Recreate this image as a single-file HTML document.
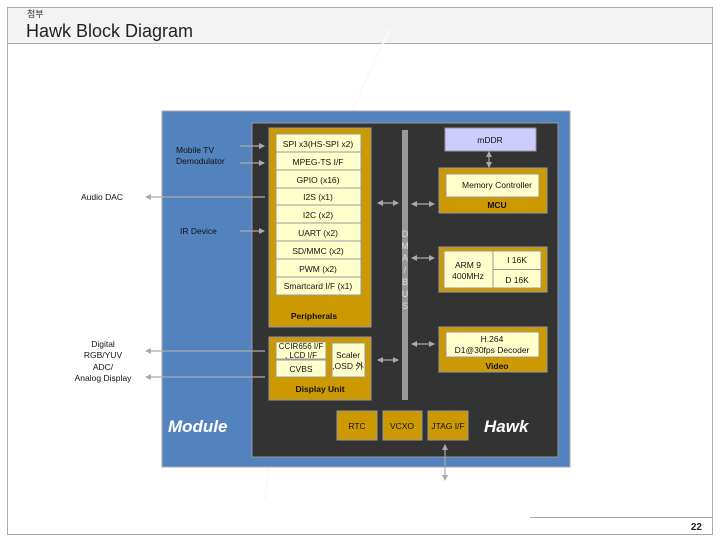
<!DOCTYPE html>
<html><head><meta charset="utf-8"><style>
body{margin:0;background:#fff;}
svg{display:block;font-family:"Liberation Sans","Noto Sans CJK KR",sans-serif;}
</style></head><body>
<svg width="720" height="540" viewBox="0 0 720 540" xmlns="http://www.w3.org/2000/svg">
<defs>
<marker id="a" markerWidth="6" markerHeight="6" refX="5" refY="3" orient="auto-start-reverse" markerUnits="userSpaceOnUse"><path d="M0,0 L6,3 L0,6z" fill="#aaa"/></marker>
</defs>
<rect x="7.5" y="7.5" width="705" height="527" fill="#fff" stroke="#aaa"/>
<rect x="8" y="8" width="704" height="35" fill="#f3f3f3"/>
<line x1="7" y1="43.5" x2="713" y2="43.5" stroke="#aaa"/>
<text x="27" y="17" font-size="9" fill="#333">첨부</text>
<text x="26" y="37" font-size="18" fill="#222">Hawk Block Diagram</text>
<line x1="530" y1="517.5" x2="713" y2="517.5" stroke="#aaa"/>
<text x="702" y="530" font-size="10" font-weight="bold" fill="#222" text-anchor="end">22</text>
<path d="M265 500 Q300 200 390 30" fill="none" stroke="#fafafa" stroke-width="2"/>

<rect x="162" y="111" width="408" height="356" fill="#5283bf" stroke="#aaa"/>
<rect x="252" y="123" width="306" height="334" fill="#333" stroke="#999"/>

<rect x="269" y="128" width="102" height="199" fill="#cc9900" stroke="#999"/>
<g font-size="8.5" fill="#111" text-anchor="middle">
<rect x="276" y="134" width="85" height="161" fill="#ffffcc" stroke="#999"/>
<g stroke="#999"><line x1="276" y1="152" x2="361" y2="152"/><line x1="276" y1="170" x2="361" y2="170"/><line x1="276" y1="188" x2="361" y2="188"/><line x1="276" y1="205" x2="361" y2="205"/><line x1="276" y1="223" x2="361" y2="223"/><line x1="276" y1="241" x2="361" y2="241"/><line x1="276" y1="259" x2="361" y2="259"/><line x1="276" y1="277" x2="361" y2="277"/></g>
<text x="318" y="147">SPI x3(HS-SPI x2)</text>
<text x="318" y="165">MPEG-TS I/F</text>
<text x="318" y="183">GPIO (x16)</text>
<text x="318" y="200">I2S (x1)</text>
<text x="318" y="218">I2C (x2)</text>
<text x="318" y="236">UART (x2)</text>
<text x="318" y="254">SD/MMC (x2)</text>
<text x="318" y="272">PWM (x2)</text>
<text x="318" y="289">Smartcard I/F (x1)</text>
<text x="314" y="319" font-weight="bold">Peripherals</text>
</g>

<rect x="402" y="130" width="6" height="270" fill="#999"/>
<g font-size="9" fill="#ddd" text-anchor="middle">
<text x="405" y="237">D</text><text x="405" y="249">M</text><text x="405" y="261">A</text><text x="405" y="273">/</text><text x="405" y="285">B</text><text x="405" y="297">U</text><text x="405" y="309">S</text>
</g>

<g font-size="8.5" fill="#111" text-anchor="middle">
<rect x="445" y="128" width="91" height="23" fill="#ccccff" stroke="#999"/>
<text x="490" y="143">mDDR</text>
<rect x="439" y="168" width="108" height="45" fill="#cc9900" stroke="#999"/>
<rect x="446" y="174" width="93" height="23" fill="#ffffcc" stroke="#999"/>
<text x="497" y="188">Memory Controller</text>
<text x="497" y="208" font-weight="bold">MCU</text>
<rect x="439" y="247" width="108" height="45" fill="#cc9900" stroke="#999"/>
<rect x="444" y="251" width="97" height="37" fill="#ffffcc" stroke="#999"/>
<line x1="493" y1="251" x2="493" y2="288" stroke="#999"/>
<line x1="493" y1="269.5" x2="541" y2="269.5" stroke="#999"/>
<text x="468" y="268">ARM 9</text><text x="468" y="279">400MHz</text>
<text x="517" y="263">I 16K</text><text x="517" y="283">D 16K</text>
<rect x="439" y="327" width="108" height="45" fill="#cc9900" stroke="#999"/>
<rect x="446" y="332" width="93" height="25" fill="#ffffcc" stroke="#999"/>
<text x="492" y="342">H.264</text><text x="492" y="353">D1@30fps Decoder</text>
<text x="497" y="369" font-weight="bold">Video</text>

<rect x="269" y="337" width="102" height="63" fill="#cc9900" stroke="#999"/>
<rect x="276" y="342" width="50" height="17" fill="#ffffcc" stroke="#999"/>
<rect x="276" y="360" width="50" height="17" fill="#ffffcc" stroke="#999"/>
<rect x="332" y="343" width="33" height="34" fill="#ffffcc" stroke="#999"/>
<text x="301" y="349" font-size="8">CCIR656 I/F</text>
<text x="301" y="358" font-size="8">, LCD I/F</text>
<text x="301" y="372">CVBS</text>
<text x="348" y="358">Scaler</text><text x="348" y="369">,OSD 外</text>
<text x="320" y="392" font-weight="bold">Display Unit</text>

<rect x="337" y="411" width="40" height="29" fill="#cc9900" stroke="#999"/>
<rect x="383" y="411" width="39" height="29" fill="#cc9900" stroke="#999"/>
<rect x="428" y="411" width="40" height="29" fill="#cc9900" stroke="#999"/>
<text x="357" y="429">RTC</text><text x="402" y="429">VCXO</text><text x="448" y="429">JTAG I/F</text>
</g>
<text x="168" y="432" font-size="17" font-weight="bold" font-style="italic" fill="#fff">Module</text>
<text x="484" y="432" font-size="17" font-weight="bold" font-style="italic" fill="#fff">Hawk</text>

<g stroke="#aaa" stroke-width="1.2" fill="none">
<line x1="378" y1="203" x2="398" y2="203" marker-start="url(#a)" marker-end="url(#a)"/>
<line x1="412" y1="204" x2="434" y2="204" marker-start="url(#a)" marker-end="url(#a)"/>
<line x1="412" y1="258" x2="434" y2="258" marker-start="url(#a)" marker-end="url(#a)"/>
<line x1="412" y1="344" x2="434" y2="344" marker-start="url(#a)" marker-end="url(#a)"/>
<line x1="378" y1="360" x2="398" y2="360" marker-start="url(#a)" marker-end="url(#a)"/>
<line x1="489" y1="152" x2="489" y2="167" marker-start="url(#a)" marker-end="url(#a)"/>
<line x1="445" y1="445" x2="445" y2="480" marker-start="url(#a)" marker-end="url(#a)"/>
<line x1="240" y1="146" x2="264" y2="146" marker-end="url(#a)"/>
<line x1="240" y1="163" x2="264" y2="163" marker-end="url(#a)"/>
<line x1="240" y1="231" x2="264" y2="231" marker-end="url(#a)"/>
<line x1="265" y1="197" x2="146" y2="197" marker-end="url(#a)"/>
<line x1="265" y1="351" x2="146" y2="351" marker-end="url(#a)"/>
<line x1="265" y1="377" x2="146" y2="377" marker-end="url(#a)"/>
</g>
<g font-size="8.5" fill="#111">
<text x="176" y="153">Mobile TV</text><text x="176" y="164">Demodulator</text>
<text x="180" y="234">IR Device</text>
<text x="81" y="200">Audio DAC</text>
<g text-anchor="middle"><text x="103" y="347">Digital</text><text x="103" y="358">RGB/YUV</text><text x="103" y="370">ADC/</text><text x="103" y="381">Analog Display</text></g>
</g>
</svg>
</body></html>
